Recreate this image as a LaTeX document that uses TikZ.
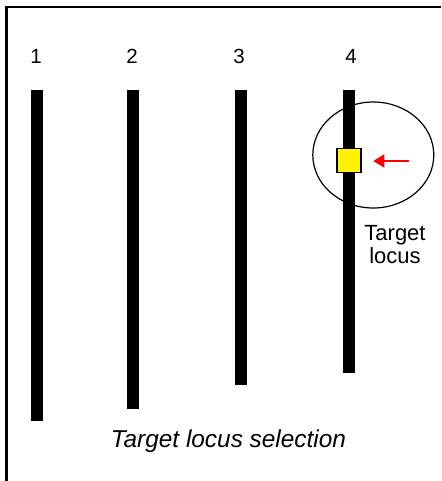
\documentclass[tikz,border=0pt]{standalone}
\usepackage{fontspec}
\setmainfont{Liberation Sans}
\usetikzlibrary{arrows.meta,shapes.geometric}
\begin{document}
\begin{tikzpicture}[x=1pt,y=-1pt,
  locusbar/.style={fill=black,draw=none},
  tracklabel/.style={font=\fontsize{20.5}{22}\selectfont,inner sep=0pt},
  targetbox/.style={draw=black,line width=1.3pt,fill=yellow,minimum width=24pt,minimum height=24pt,inner sep=0pt},
  pointer/.style={red,line width=2pt,-{Triangle[length=11pt,width=13pt]}}]
  \useasboundingbox (0,0) rectangle (441,481);
  \fill[white] (0,0) rectangle (441,481);
  % open frame: top and left edges only
  \draw[line width=2.3pt] (6.5,481) |- (441,7);
  % chromosome bars
  \fill[locusbar] (31,90) rectangle (42.5,421);
  \fill[locusbar] (127,90) rectangle (139,409);
  \fill[locusbar] (235,90) rectangle (247,385);
  \fill[locusbar] (343,90) rectangle (355,373);
  % bar numbers
  \node[tracklabel] (n1) at (36,56.5) {1};
  \node[tracklabel] (n2) at (132,56.5) {2};
  \node[tracklabel] (n3) at (239,56.5) {3};
  \node[tracklabel] (n4) at (351,56.5) {4};
  % highlighted locus
  \node[draw=black,line width=1.2pt,ellipse,minimum width=121pt,minimum height=106pt,inner sep=0pt] (circ) at (373.3,155) {};
  \node[targetbox] (target) at (349,160.5) {};
  \coordinate (tail) at (409,161);
  \coordinate (tip) at (373.3,161);
  \draw[pointer] (tail) -- (tip);
  \node[font=\fontsize{22}{23}\selectfont,align=center,inner sep=0pt] (lbl) at (395,245) {Target\\locus};
  % caption
  \node[font=\fontsize{24.4}{26}\selectfont\itshape,inner sep=0pt,anchor=base] (cap) at (228.5,447) {Target locus selection};
\end{tikzpicture}
\end{document}
